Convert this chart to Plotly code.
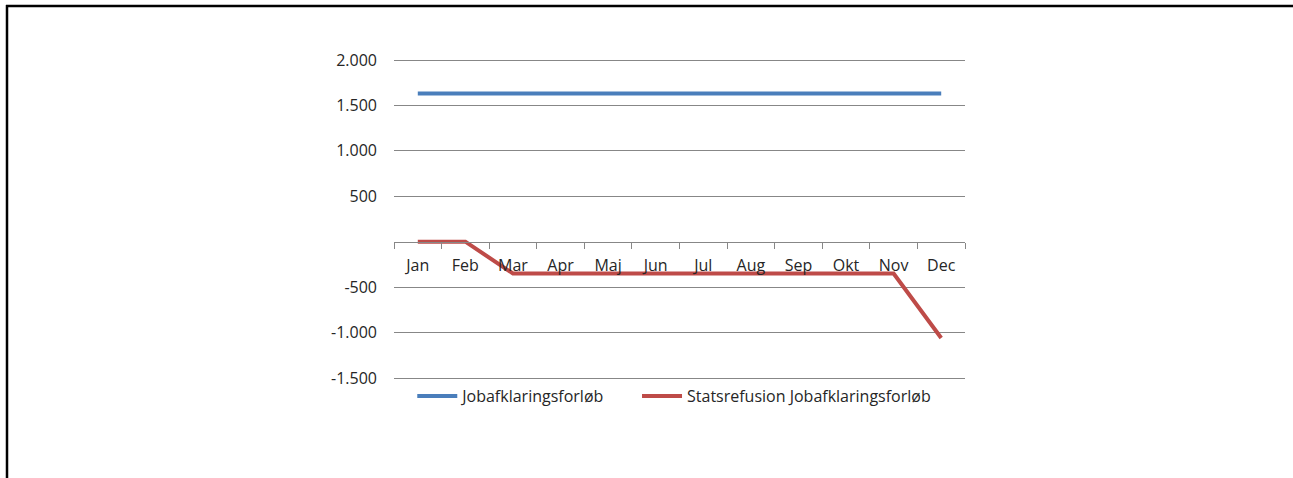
import plotly.graph_objects as go

months = ["Jan", "Feb", "Mar", "Apr", "Maj", "Jun", "Jul", "Aug", "Sep", "Okt", "Nov", "Dec"]
jobafklaring = [1630, 1630, 1630, 1630, 1630, 1630, 1630, 1630, 1630, 1630, 1630, 1630]
statsrefusion = [0, 0, -350, -350, -350, -350, -350, -350, -350, -350, -350, -1060]
ytick_vals = [-1500, -1000, -500, 500, 1000, 1500, 2000]
ytick_text = ["-1.500", "-1.000", "-500", "500", "1.000", "1.500", "2.000"]

FONT = "Open Sans, Carlito, Calibri, sans-serif"
GRID = "#878787"
TXT = "#262626"
FS = 16

fig = go.Figure()
fig.add_trace(go.Scatter(x=months, y=jobafklaring, mode="lines", name="Jobafklaringsforløb",
                         line=dict(color="#4A7EBB", width=4), legend="legend"))
fig.add_trace(go.Scatter(x=months, y=statsrefusion, mode="lines", name="Statsrefusion Jobafklaringsforløb",
                         line=dict(color="#BE4B48", width=4), legend="legend2"))

ymin, ymax = -1522, 2022
zero_pos = (0 - ymin) / (ymax - ymin)

L, R, T, B = 394, 328, 58, 98
W, H = 1293, 478

leg_common = dict(orientation="h", xanchor="left", y=-0.05, yanchor="middle",
                  font=dict(family=FONT, size=FS, color=TXT),
                  itemwidth=40, tracegroupgap=0, bgcolor="rgba(0,0,0,0)")

fig.update_layout(
    width=W, height=H,
    margin=dict(l=L, r=R, t=T, b=B),
    paper_bgcolor="white", plot_bgcolor="white",
    font=dict(family=FONT, size=FS, color=TXT),
    showlegend=True,
    legend=dict(x=0.032, **leg_common),
    legend2=dict(x=0.4256, **leg_common),
    xaxis=dict(type="category", anchor="free", position=zero_pos,
               showgrid=False, showline=True, linecolor=GRID, linewidth=1,
               ticks="outside", tickson="boundaries", ticklen=6, tickcolor=GRID,
               ticklabelstandoff=9,
               tickfont=dict(family=FONT, size=FS, color=TXT),
               range=[-0.5, 11.5], zeroline=False, fixedrange=True),
    yaxis=dict(range=[ymin, ymax], tickmode="array", tickvals=ytick_vals, ticktext=ytick_text,
               showgrid=True, gridcolor=GRID, gridwidth=1, zeroline=False, showline=False,
               ticks="", ticklabelstandoff=16,
               tickfont=dict(family=FONT, size=FS, color=TXT), fixedrange=True),
)

# Frame border of the original image (top and left)
pw = W - L - R
ph = H - T - B
def px_x(x):
    return (x - L) / pw
def px_y(y):
    return (H - B - y) / ph
fig.add_shape(type="line", xref="paper", yref="paper", x0=px_x(6), x1=px_x(1293), y0=px_y(6), y1=px_y(6),
              line=dict(color="black", width=2.5))
fig.add_shape(type="line", xref="paper", yref="paper", x0=px_x(7), x1=px_x(7), y0=px_y(5), y1=px_y(478),
              line=dict(color="black", width=2.5))

fig.write_html("out.html", config={"displayModeBar": False},
               post_script="document.body.style.margin='0px';document.body.style.overflow='hidden';")
